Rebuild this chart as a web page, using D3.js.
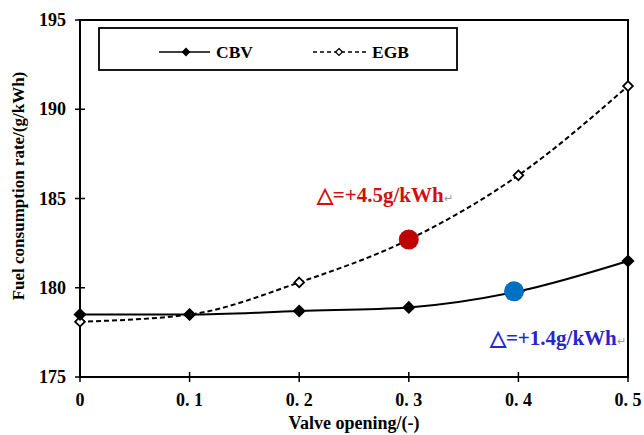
<!DOCTYPE html>
<html>
<head>
<meta charset="utf-8">
<script src="https://cdn.jsdelivr.net/npm/d3@7"></script>
<style>
  body { margin: 0; background: #fff; }
  text { font-family: "Liberation Serif", "Times New Roman", serif; font-weight: bold; }
</style>
</head>
<body>
<script>
// data
var opening = [0, 0.1, 0.2, 0.3, 0.4, 0.5]
var cbv = [178.5, 178.5, 178.7, 178.9, 179.8, 181.5]
var egb = [178.1, 178.5, 180.3, 182.7, 186.3, 191.3]
var xTicks = [0, 0.1, 0.2, 0.3, 0.4, 0.5]
var xTickLabels = ['0', '0. 1', '0. 2', '0. 3', '0. 4', '0. 5']
var yTicks = [175, 180, 185, 190, 195]

// highlighted points and notes
var marks = [
  { x: 0.3, y: 182.7, color: '#c00000' },
  { x: 0.396, y: 179.8, color: '#0070c0' }
]
var notes = [
  { x: 0.216, y: 184.8, text: '\u25b3=+4.5g/kWh', color: '#d01010' },
  { x: 0.374, y: 176.8, text: '\u25b3=+1.4g/kWh', color: '#2626cc' }
]

var width = 644, height = 435
var margin = { left: 80, right: 16, top: 20, bottom: 58 }

var svg = d3.select('body').append('svg')
  .attr('width', width)
  .attr('height', height)

var x = d3.scaleLinear().domain([0, 0.5]).range([margin.left, width - margin.right])
var y = d3.scaleLinear().domain([175, 195]).range([height - margin.bottom, margin.top])

// frame
svg.append('rect')
  .attr('x', x(0)).attr('y', y(195))
  .attr('width', x(0.5) - x(0)).attr('height', y(175) - y(195))
  .attr('fill', 'none').attr('stroke', '#000').attr('stroke-width', 2)

// ticks crossing the axis
svg.selectAll('.ytick').data(yTicks).enter().append('line')
  .attr('x1', x(0) - 5).attr('x2', x(0) + 5)
  .attr('y1', function(d) { return y(d) }).attr('y2', function(d) { return y(d) })
  .attr('stroke', '#000').attr('stroke-width', 1.5)

svg.selectAll('.xtick').data(xTicks).enter().append('line')
  .attr('x1', function(d) { return x(d) }).attr('x2', function(d) { return x(d) })
  .attr('y1', y(175) - 5).attr('y2', y(175) + 5)
  .attr('stroke', '#000').attr('stroke-width', 1.5)

svg.selectAll('.ylab').data(yTicks).enter().append('text')
  .attr('x', x(0) - 14).attr('y', function(d) { return y(d) + 6 })
  .attr('text-anchor', 'end').style('font-size', '18px')
  .text(function(d) { return d })

svg.selectAll('.xlab').data(xTicks).enter().append('text')
  .attr('x', function(d) { return x(d) }).attr('y', y(175) + 29)
  .attr('text-anchor', 'middle').style('font-size', '18px')
  .text(function(d, i) { return xTickLabels[i] })

svg.append('text')
  .attr('x', (x(0) + x(0.5)) / 2).attr('y', 429)
  .attr('text-anchor', 'middle').style('font-size', '18px')
  .text('Valve opening/(-)')

svg.append('text')
  .attr('transform', 'translate(24,186) rotate(-90)')
  .attr('text-anchor', 'middle').style('font-size', '17px')
  .text('Fuel consumption rate/(g/kWh)')

// series lines
var line = d3.line()
  .x(function(d, i) { return x(opening[i]) })
  .y(function(d) { return y(d) })
  .curve(d3.curveMonotoneX)

svg.append('path').datum(egb)
  .attr('d', line).attr('fill', 'none')
  .attr('stroke', '#000').attr('stroke-width', 2)
  .attr('stroke-dasharray', '5,3')

svg.append('path').datum(cbv)
  .attr('d', line).attr('fill', 'none')
  .attr('stroke', '#000').attr('stroke-width', 2)

var diamond = d3.symbol().type(d3.symbolDiamond2)

svg.selectAll('.egbpt').data(egb).enter().append('path')
  .attr('d', diamond.size(60)())
  .attr('transform', function(d, i) { return 'translate(' + x(opening[i]) + ',' + y(d) + ')' })
  .attr('fill', '#fff').attr('stroke', '#000').attr('stroke-width', 1.8)

svg.selectAll('.cbvpt').data(cbv).enter().append('path')
  .attr('d', diamond.size(110)())
  .attr('transform', function(d, i) { return 'translate(' + x(opening[i]) + ',' + y(d) + ')' })
  .attr('fill', '#000')

// highlight dots
svg.selectAll('.mark').data(marks).enter().append('circle')
  .attr('cx', function(d) { return x(d.x) }).attr('cy', function(d) { return y(d.y) })
  .attr('r', 10).attr('fill', function(d) { return d.color })

var note = svg.selectAll('.note').data(notes).enter().append('text')
  .attr('x', function(d) { return x(d.x) }).attr('y', function(d) { return y(d.y) })
  .style('font-size', '21px')
  .attr('fill', function(d) { return d.color })
note.append('tspan').text(function(d) { return d.text })
note.append('tspan')
  .attr('fill', '#999').style('font-size', '11px').style('font-weight', 'normal')
  .text('\u21b5')

// legend
svg.append('rect')
  .attr('x', 99).attr('y', 28).attr('width', 358).attr('height', 42)
  .attr('fill', '#fff').attr('stroke', '#000').attr('stroke-width', 1.8)

svg.append('line')
  .attr('x1', 159).attr('x2', 210).attr('y1', 52).attr('y2', 52)
  .attr('stroke', '#000').attr('stroke-width', 1.5)
svg.append('path')
  .attr('d', diamond.size(50)())
  .attr('transform', 'translate(186,52)').attr('fill', '#000')
svg.append('text')
  .attr('x', 216).attr('y', 58).style('font-size', '17.5px').text('CBV')

svg.append('line')
  .attr('x1', 313).attr('x2', 366).attr('y1', 52).attr('y2', 52)
  .attr('stroke', '#000').attr('stroke-width', 1.5).attr('stroke-dasharray', '4,3')
svg.append('path')
  .attr('d', diamond.size(30)())
  .attr('transform', 'translate(339,52)')
  .attr('fill', '#fff').attr('stroke', '#000').attr('stroke-width', 1.3)
svg.append('text')
  .attr('x', 372).attr('y', 58).style('font-size', '17.5px').text('EGB')
</script>
</body>
</html>
